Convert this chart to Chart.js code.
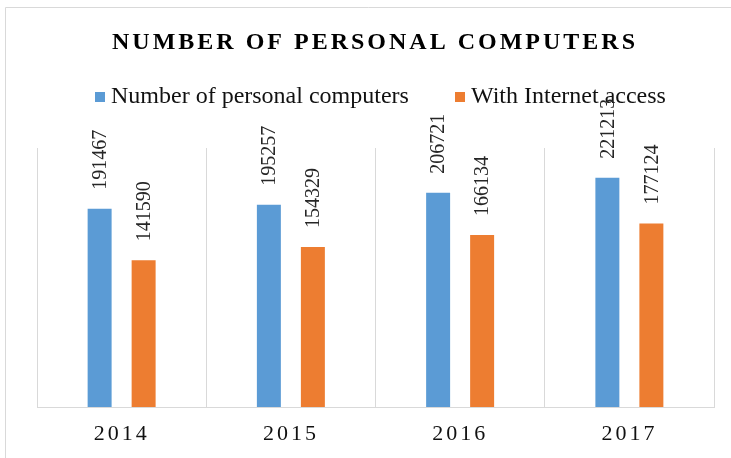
<!DOCTYPE html>
<html>
<head>
<meta charset="utf-8">
<script src="https://cdn.jsdelivr.net/npm/chart.js@4"></script>
<style>
  html, body { margin: 0; padding: 0; background: #fff; overflow: hidden; }
  #wrap { position: relative; width: 731px; height: 458px; }
</style>
</head>
<body>
<div id="wrap"><canvas id="chart" width="731" height="458"></canvas></div>
<script>
const YEARS = ['2014', '2015', '2016', '2017'];
const PC_COUNT = [191467, 195257, 206721, 221213];
const WITH_INTERNET = [141590, 154329, 166134, 177124];
const SERIES_NAMES = ['Number of personal computers', 'With Internet access'];
const COLORS = ['#5b9bd5', '#ed7d31'];
const TITLE = 'NUMBER OF PERSONAL COMPUTERS';
const SERIF = '"Liberation Serif", "Times New Roman", serif';

// frame, title, legend drawn by hand so letter spacing can match
const decorPlugin = {
  id: 'decor',
  beforeDraw(chart) {
    const ctx = chart.ctx;
    ctx.save();
    ctx.strokeStyle = '#d9d9d9';
    ctx.lineWidth = 1;
    ctx.beginPath();
    ctx.moveTo(5.5, 458);
    ctx.lineTo(5.5, 7.5);
    ctx.lineTo(731, 7.5);
    ctx.stroke();

    ctx.fillStyle = '#000';
    ctx.font = 'bold 24px ' + SERIF;
    ctx.letterSpacing = '3px';
    ctx.textAlign = 'center';
    ctx.textBaseline = 'alphabetic';
    ctx.fillText(TITLE, 375, 49);
    ctx.letterSpacing = '0px';

    // legend
    ctx.font = '24px ' + SERIF;
    ctx.textAlign = 'left';
    const items = [{ x: 95, i: 0 }, { x: 455, i: 1 }];
    items.forEach(it => {
      ctx.fillStyle = COLORS[it.i];
      ctx.fillRect(it.x, 92, 10, 10);
      ctx.fillStyle = '#111';
      ctx.fillText(SERIES_NAMES[it.i], it.x + 16, 103);
    });
    ctx.restore();
  },
  afterDatasetsDraw(chart) {
    const ctx = chart.ctx;
    ctx.save();
    ctx.fillStyle = '#262626';
    ctx.font = '20px ' + SERIF;
    ctx.textAlign = 'left';
    ctx.textBaseline = 'middle';
    chart.data.datasets.forEach((ds, di) => {
      chart.getDatasetMeta(di).data.forEach((bar, i) => {
        ctx.save();
        ctx.translate(bar.x, bar.y - 19);
        ctx.rotate(-Math.PI / 2);
        ctx.fillText(String(ds.data[i]), 0, 1);
        ctx.restore();
      });
    });

    // category labels with letter spacing
    const xs = chart.scales.x;
    ctx.font = '22px ' + SERIF;
    ctx.letterSpacing = '3px';
    ctx.textAlign = 'center';
    ctx.textBaseline = 'alphabetic';
    ctx.fillStyle = '#111';
    YEARS.forEach((y, i) => {
      ctx.fillText(y, xs.getPixelForTick(i), 440);
    });
    ctx.restore();
  }
};

new Chart(document.getElementById('chart'), {
  type: 'bar',
  data: {
    labels: YEARS,
    datasets: [
      { label: SERIES_NAMES[0], data: PC_COUNT, backgroundColor: COLORS[0] },
      { label: SERIES_NAMES[1], data: WITH_INTERNET, backgroundColor: COLORS[1] }
    ]
  },
  options: {
    responsive: false,
    animation: false,
    categoryPercentage: 0.52,
    barPercentage: 0.545,
    layout: { padding: { left: 37, right: 17, top: 148, bottom: 51 } },
    plugins: {
      legend: { display: false },
      title: { display: false },
      tooltip: { enabled: false }
    },
    scales: {
      x: {
        grid: { color: '#d9d9d9', offset: true, drawTicks: false },
        border: { color: '#d9d9d9' },
        ticks: { display: false }
      },
      y: {
        display: false,
        min: 0,
        max: 250000
      }
    }
  },
  plugins: [decorPlugin]
});
</script>
</body>
</html>
